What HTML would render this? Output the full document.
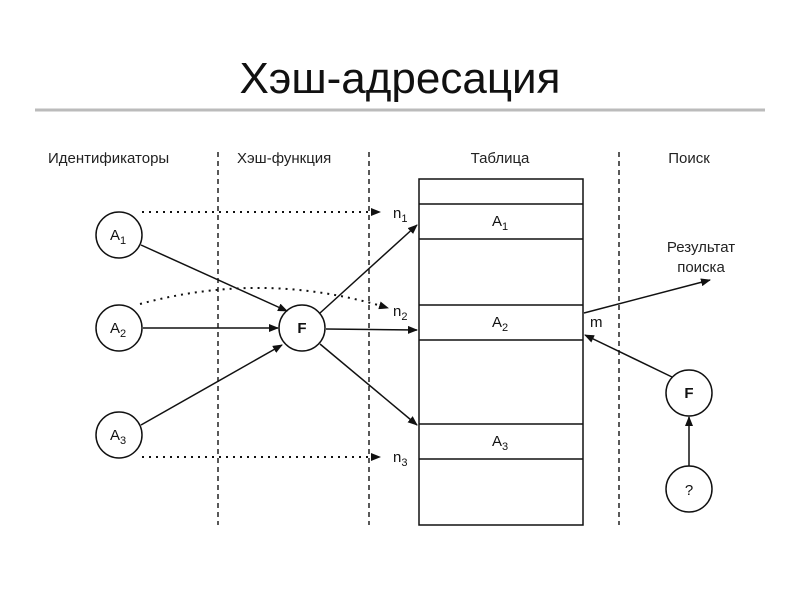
<!DOCTYPE html>
<html><head><meta charset="utf-8"><style>
body{margin:0;background:#fff;}
svg{display:block;font-family:"Liberation Sans",sans-serif;}
</style></head><body>
<svg width="800" height="600" viewBox="0 0 800 600">
<defs><marker id="a" markerWidth="10" markerHeight="8" refX="9" refY="4" orient="auto" markerUnits="userSpaceOnUse"><path d="M0,0 L10,4 L0,8 z" fill="#111"/></marker></defs>
<text x="400" y="93" font-size="44" text-anchor="middle" fill="#111">Хэш-адресация</text>
<line x1="35" y1="110" x2="765" y2="110" stroke="#bbb" stroke-width="3"/>
<g font-size="15" fill="#222">
<text x="48" y="163">Идентификаторы</text>
<text x="237" y="163">Хэш-функция</text>
<text x="500" y="163" text-anchor="middle">Таблица</text>
<text x="689" y="163" text-anchor="middle">Поиск</text>
<text x="701" y="252" text-anchor="middle">Результат</text>
<text x="701" y="272" text-anchor="middle">поиска</text>
</g>
<g stroke="#222" stroke-width="1.5" stroke-dasharray="5,4">
<line x1="218" y1="152" x2="218" y2="525"/>
<line x1="369" y1="152" x2="369" y2="525"/>
<line x1="619" y1="152" x2="619" y2="525"/>
</g>
<g fill="none" stroke="#111" stroke-width="1.5">
<rect x="419" y="179" width="164" height="346"/>
<line x1="419" y1="204" x2="583" y2="204"/><line x1="419" y1="239" x2="583" y2="239"/>
<line x1="419" y1="305" x2="583" y2="305"/><line x1="419" y1="340" x2="583" y2="340"/>
<line x1="419" y1="424" x2="583" y2="424"/><line x1="419" y1="459" x2="583" y2="459"/>
<circle cx="119" cy="235" r="23"/><circle cx="119" cy="328" r="23"/><circle cx="119" cy="435" r="23"/>
<circle cx="302" cy="328" r="23"/><circle cx="689" cy="393" r="23"/><circle cx="689" cy="489" r="23"/>
</g>
<g fill="none" stroke="#111" stroke-width="2" stroke-dasharray="2,5">
<line x1="142" y1="212" x2="380" y2="212" marker-end="url(#a)"/>
<path d="M140,304 Q265,270 388,308" marker-end="url(#a)"/>
<line x1="142" y1="457" x2="380" y2="457" marker-end="url(#a)"/>
</g>
<g stroke="#111" stroke-width="1.5" marker-end="url(#a)">
<line x1="141" y1="245" x2="287" y2="311"/>
<line x1="143" y1="328" x2="278" y2="328"/>
<line x1="141" y1="425" x2="282" y2="345"/>
<line x1="320" y1="313" x2="417" y2="225"/>
<line x1="326" y1="329" x2="417" y2="330"/>
<line x1="320" y1="344" x2="417" y2="425"/>
<line x1="584" y1="313" x2="710" y2="280"/>
<line x1="672" y1="377" x2="585" y2="335"/>
<line x1="689" y1="466" x2="689" y2="417"/>
</g>
<g font-size="15" fill="#111">
<text x="393" y="218">n<tspan font-size="11" dy="4">1</tspan></text>
<text x="393" y="316">n<tspan font-size="11" dy="4">2</tspan></text>
<text x="393" y="462">n<tspan font-size="11" dy="4">3</tspan></text>
<text x="590" y="327">m</text>
<text x="110" y="240">A<tspan font-size="11" dy="4">1</tspan></text>
<text x="110" y="333">A<tspan font-size="11" dy="4">2</tspan></text>
<text x="110" y="440">A<tspan font-size="11" dy="4">3</tspan></text>
<text x="492" y="226">A<tspan font-size="11" dy="4">1</tspan></text>
<text x="492" y="327">A<tspan font-size="11" dy="4">2</tspan></text>
<text x="492" y="446">A<tspan font-size="11" dy="4">3</tspan></text>
<text x="302" y="333" text-anchor="middle" font-weight="bold">F</text>
<text x="689" y="398" text-anchor="middle" font-weight="bold">F</text>
<text x="689" y="495" text-anchor="middle">?</text>
</g>
</svg>
</body></html>
